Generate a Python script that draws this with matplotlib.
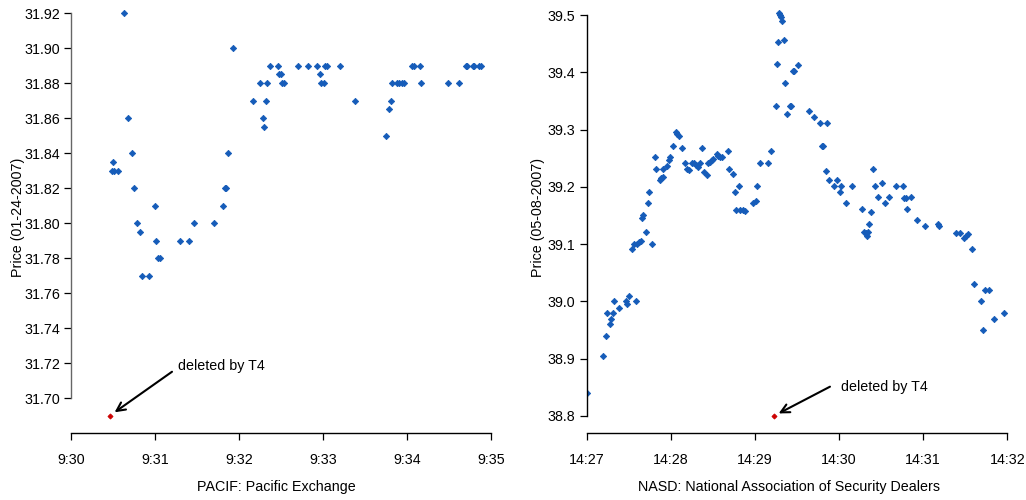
import matplotlib
matplotlib.use("Agg")
import matplotlib.pyplot as plt
from matplotlib import font_manager

# seconds after 9:30:00, price -- PACIF trades on 01-24-2007
pacif_sec = [29.1, 30.0, 30.7, 33.8, 37.9, 40.9, 43.8, 45.0, 46.9, 49.1,
             50.9, 55.9, 60.0, 60.9, 61.8, 63.4, 78.1, 84.1, 88.1, 101.9,
             108.8, 110.0, 110.9, 112.1, 115.9, 130.0, 135.0, 136.9, 138.1, 139.1,
             140.2, 142.2, 148.1, 148.8, 150.0, 150.5, 152.1, 162.1, 169.1, 175.9,
             178.1, 178.6, 180.5, 181.2, 183.1, 192.1, 203.1, 225.2, 227.4, 228.4,
             229.1, 232.6, 234.3, 236.2, 238.1, 243.6, 245.2, 249.3, 250.2, 269.3,
             277.4, 281.9, 283.1, 286.9, 288.1, 291.2, 292.6]
pacif_price = [31.83, 31.835, 31.83, 31.83, 31.92, 31.86, 31.84, 31.82, 31.80, 31.795,
               31.77, 31.77, 31.81, 31.79, 31.78, 31.78, 31.79, 31.79, 31.80, 31.80,
               31.81, 31.82, 31.82, 31.84, 31.90, 31.87, 31.88, 31.86, 31.855, 31.87,
               31.88, 31.89, 31.89, 31.885, 31.885, 31.88, 31.88, 31.89, 31.89, 31.89,
               31.885, 31.88, 31.88, 31.89, 31.89, 31.89, 31.87, 31.85, 31.865, 31.87,
               31.88, 31.88, 31.88, 31.88, 31.88, 31.89, 31.89, 31.89, 31.88, 31.88,
               31.88, 31.89, 31.89, 31.89, 31.89, 31.89, 31.89]
pacif_del_sec = 27.9
pacif_del_price = 31.69

# seconds after 14:27:00, price -- NASD trades on 05-08-2007
nasd_sec = [0.0, 11.6, 13.6, 14.7, 16.6, 17.5, 18.8, 19.7, 23.3, 28.0,
            29.0, 30.4, 32.5, 33.7, 35.4, 35.7, 37.1, 38.7, 39.5, 40.4,
            42.5, 43.5, 44.7, 46.6, 48.7, 49.7, 52.3, 53.2, 54.2, 54.6,
            57.5, 58.7, 59.4, 61.4, 63.5, 64.2, 65.6, 67.8, 70.3, 71.8,
            73.2, 75.1, 76.5, 77.9, 79.2, 80.8, 82.5, 83.7, 85.6, 86.3,
            88.0, 89.2, 90.3, 92.7, 93.9, 95.1, 96.7, 100.6, 101.7, 104.6,
            105.8, 106.5, 108.7, 109.4, 111.3, 112.9, 118.9, 120.6, 121.7, 123.6,
            129.6, 131.5, 134.8, 135.5, 136.7, 137.4, 137.9, 138.6, 139.5, 140.8,
            141.7, 142.7, 145.0, 145.7, 147.0, 147.9, 150.7, 158.6, 162.4, 166.4,
            167.7, 168.6, 170.5, 171.6, 172.6, 176.6, 178.5, 180.7, 181.6, 184.8,
            189.5, 196.6, 197.8, 199.3, 200.2, 200.7, 201.6, 202.6, 204.5, 205.7,
            207.6, 210.7, 212.6, 215.4, 220.7, 225.7, 226.6, 227.6, 228.7, 231.6,
            235.6, 241.6, 250.6, 251.5, 263.7, 266.5, 269.4, 270.6, 271.8, 274.7,
            276.3, 281.5, 282.5, 284.4, 286.8, 290.6, 297.7]
nasd_price = [38.84, 38.905, 38.94, 38.98, 38.96, 38.97, 38.98, 39.00, 38.988, 39.00,
              38.995, 39.01, 39.091, 39.10, 39.00, 39.10, 39.103, 39.106, 39.146, 39.151,
              39.121, 39.171, 39.191, 39.10, 39.252, 39.232, 39.212, 39.215, 39.218, 39.232,
              39.237, 39.247, 39.252, 39.272, 39.296, 39.293, 39.289, 39.267, 39.242, 39.232,
              39.229, 39.241, 39.241, 39.238, 39.235, 39.241, 39.267, 39.226, 39.22, 39.241,
              39.243, 39.247, 39.249, 39.257, 39.253, 39.252, 39.252, 39.262, 39.232, 39.222,
              39.191, 39.16, 39.201, 39.16, 39.16, 39.157, 39.171, 39.176, 39.201, 39.242,
              39.242, 39.262, 39.342, 39.414, 39.452, 39.503, 39.50, 39.496, 39.49, 39.457,
              39.382, 39.327, 39.342, 39.342, 39.402, 39.402, 39.413, 39.332, 39.322, 39.312,
              39.272, 39.272, 39.227, 39.312, 39.212, 39.201, 39.212, 39.191, 39.201, 39.171,
              39.201, 39.161, 39.122, 39.12, 39.115, 39.122, 39.136, 39.156, 39.232, 39.201,
              39.182, 39.207, 39.171, 39.182, 39.201, 39.201, 39.181, 39.181, 39.161, 39.182,
              39.142, 39.131, 39.136, 39.131, 39.12, 39.12, 39.111, 39.114, 39.117, 39.091,
              39.03, 39.00, 38.95, 39.02, 39.02, 38.97, 38.98]
nasd_del_sec = 133.4
nasd_del_price = 38.80

pacif_xticks = ["9:30", "9:31", "9:32", "9:33", "9:34", "9:35"]
nasd_xticks = ["14:27", "14:28", "14:29", "14:30", "14:31", "14:32"]
pacif_yticks = [31.70, 31.72, 31.74, 31.76, 31.78, 31.80, 31.82, 31.84, 31.86, 31.88, 31.90, 31.92]
nasd_yticks = [38.8, 38.9, 39.0, 39.1, 39.2, 39.3, 39.4, 39.5]

BLUE = "#165CB9"
RED = "#CC0000"

names = {f.name for f in font_manager.fontManager.ttflist}
if "Liberation Sans Narrow" in names:
    FONT, FS = "Liberation Sans Narrow", 12
else:
    FONT, FS = "Liberation Sans", 10.3
plt.rcParams["font.family"] = [FONT, "DejaVu Sans"]
plt.rcParams["font.size"] = FS

W, H = 1026, 500


def px_axes(left, right, bottom, top):
    return [left / W, (H - bottom) / H, (right - left) / W, (bottom - top) / H]


def panel(ax, secs, prices, del_sec, del_price, xticks, yticks, yfmt,
          ylim, ylabel, xlabel, xlabel_x, ylabel_x, spine_col, tail, txt):
    mins = [s / 60 for s in secs]
    ax.plot(mins, prices, ls="none", marker="D", ms=3.2, color=BLUE, mec=BLUE, mew=0.6)
    ax.plot([del_sec / 60], [del_price], ls="none", marker="D", ms=2.6,
            color=RED, mec=RED, mew=0.6)

    ax.set_xlim(0, 5)
    ax.set_ylim(*ylim)
    ax.set_xticks(range(len(xticks)))
    ax.set_xticklabels(xticks)
    ax.set_yticks(yticks)
    ax.set_yticklabels([yfmt % v for v in yticks])

    for s in ("top", "right"):
        ax.spines[s].set_visible(False)
    ax.spines["left"].set_bounds(yticks[0], yticks[-1])
    ax.spines["bottom"].set_bounds(0, 5)
    ax.spines["left"].set_color(spine_col)
    ax.spines["left"].set_linewidth(1.0)
    ax.spines["bottom"].set_linewidth(1.0)
    ax.tick_params(axis="both", direction="out", length=5, width=0.9,
                   labelsize=FS, colors="black")
    ax.tick_params(axis="x", pad=9.5)
    ax.tick_params(axis="y", pad=3)

    ax.set_ylabel(ylabel, fontsize=FS)
    ax.yaxis.set_label_coords(ylabel_x, 0.5)
    ax.set_xlabel(xlabel, fontsize=FS)
    ax.xaxis.set_label_coords(xlabel_x, -0.108)

    ax.annotate("", xy=(del_sec / 60, del_price), xytext=tail,
                textcoords="offset points",
                arrowprops=dict(arrowstyle="->,head_length=0.6,head_width=0.3",
                                lw=1.5, color="black", shrinkA=0, shrinkB=4))
    ax.annotate("deleted by T4", xy=(del_sec / 60, del_price), xytext=txt,
                textcoords="offset points", ha="left", va="center", fontsize=FS)


fig = plt.figure(figsize=(W / 100, H / 100), dpi=100)
ax1 = fig.add_axes(px_axes(71, 491, 433, 2))
ax2 = fig.add_axes(px_axes(586.7, 1007.3, 433, 2))

panel(ax1, pacif_sec, pacif_price, pacif_del_sec, pacif_del_price,
      pacif_xticks, pacif_yticks, "%.2f", (31.68, 31.9263),
      "Price (01-24-2007)", "PACIF: Pacific Exchange", 0.489, -0.1095,
      "#666666", (44.6, 31.5), (49, 35.4))
panel(ax2, nasd_sec, nasd_price, nasd_del_sec, nasd_del_price,
      nasd_xticks, nasd_yticks, "%.1f", (38.7703, 39.5227),
      "Price (05-08-2007)", "NASD: National Association of Security Dealers",
      0.480, -0.1, "black", (40.5, 21.1), (48.2, 21.1))

fig.savefig("out.png", dpi=100)
